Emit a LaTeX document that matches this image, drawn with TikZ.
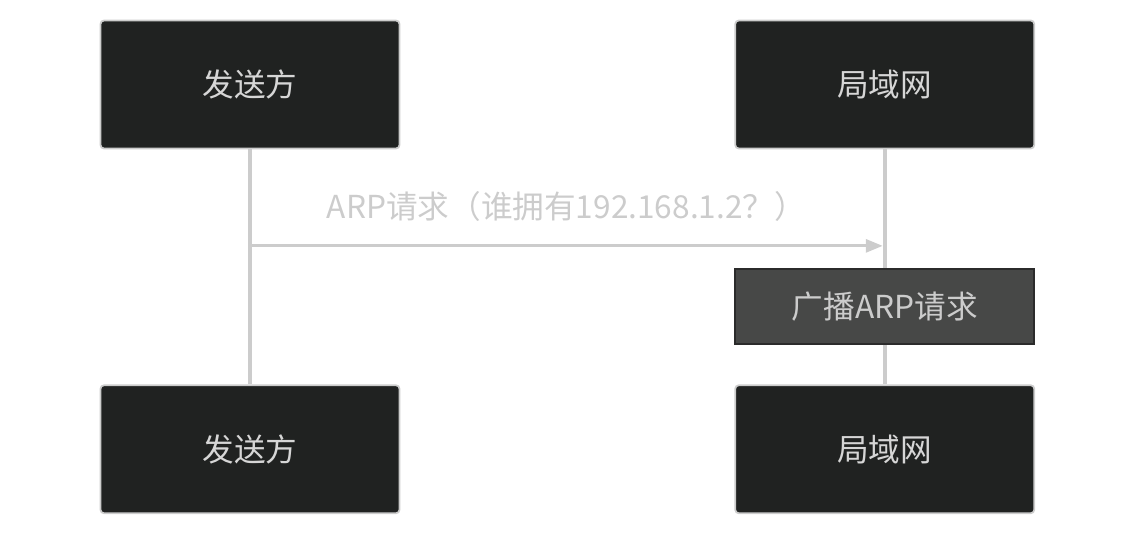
\documentclass[tikz,border=0pt]{standalone}
\usepackage{fontspec}
\newfontfamily\cjk{Noto Sans CJK SC}
\usetikzlibrary{calc,positioning,arrows.meta}
\definecolor{boxfill}{HTML}{202221}
\definecolor{lineclr}{HTML}{CCCCCC}
\definecolor{notefill}{HTML}{474847}
\definecolor{noteline}{HTML}{2B2B2B}
\tikzset{
	actor/.style={draw=lineclr, fill=boxfill, line width=1pt, rounded corners=2pt,
		minimum width=5.98cm, minimum height=2.56cm, inner sep=0pt,
		text=lineclr!80!white, font=\cjk\fontsize{18}{21}\selectfont},
	notebox/.style={draw=noteline, fill=notefill, line width=1pt,
		minimum width=5.98cm, minimum height=1.5cm, inner sep=0pt,
		text=lineclr, font=\cjk\fontsize{18}{21}\selectfont},
	lifeline/.style={draw=lineclr, line width=2pt},
	msg/.style={draw=lineclr, line width=1.7pt, -{Triangle[length=0.34cm, width=0.26cm]}}
}
\begin{document}
\begin{tikzpicture}
		\useasboundingbox (0,0) rectangle (22.72,-10.72);
		\node[actor] (Sender) at (5, -1.69) {发送方};
		\node[actor, right=6.68cm of Sender] (LAN) {局域网};
		\node[actor, below=4.7cm of Sender] (SenderBottom) {发送方};
		\node[actor, below=4.7cm of LAN] (LANBottom) {局域网};
		\node[notebox, below=2.38cm of LAN] (Broadcast) {广播ARP请求};
		\coordinate (ReqStart) at ($(Sender.south)+(0,-1.93)$);
		\coordinate (ReqEnd) at ($(LAN.south |- ReqStart)+(-0.04,0)$);
		
		\draw[lifeline] (Sender) -- (SenderBottom);
		\draw[lifeline] (LAN) -- (Broadcast);
		\draw[lifeline] (Broadcast) -- (LANBottom);
		\draw[msg] (ReqStart) -- (ReqEnd) node[midway, above=0.34cm, text=lineclr, font=\cjk\fontsize{18}{21}\selectfont] {ARP请求（谁拥有192.168.1.2？）};
	\end{tikzpicture}
\end{document}
